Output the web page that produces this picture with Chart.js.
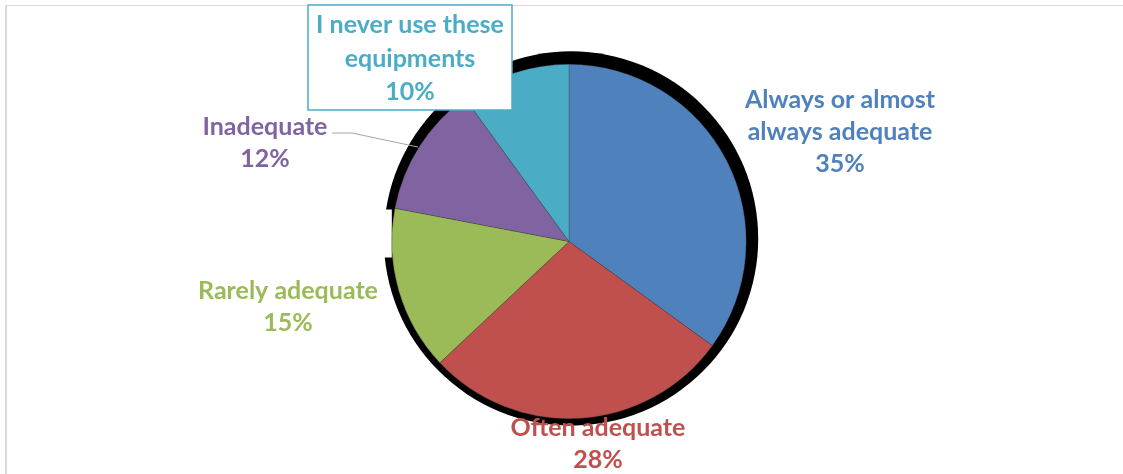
<!DOCTYPE html>
<html>
<head>
<meta charset="utf-8">
<script src="https://cdn.jsdelivr.net/npm/chart.js@4"></script>
<style>
  html, body { margin: 0; padding: 0; background: #fff; }
  #wrap { position: relative; width: 1123px; height: 474px; overflow: hidden; }
  #frame { position: absolute; left: 5px; top: 5px; width: 1130px; height: 480px;
           border-left: 2px solid #d9d9d9; border-top: 1px solid #d9d9d9; }
  canvas { position: absolute; left: 0; top: 0; }
</style>
</head>
<body>
<div id="wrap">
  <div id="frame"></div>
  <canvas id="pie" width="1123" height="474"></canvas>
</div>
<script>
// ─── Data ─────────────────────────────────────────────────────────────────────
const categories = [
  "Always or almost always adequate",
  "Often adequate",
  "Rarely adequate",
  "Inadequate",
  "I never use these equipments",
];
const shares = [35, 28, 15, 12, 10];
const sliceColors = ["#4F81BD", "#C0504D", "#9BBB59", "#8064A2", "#4BACC6"];

// label lines (wrapped like the original) and where they sit
const labelLines = [
  ["Always or almost", "always adequate"],
  ["Often adequate"],
  ["Rarely adequate"],
  ["Inadequate"],
  ["I never use these", "equipments"],
];
const labelAnchors = [
  { x: 840, y: 100 },
  { x: 598, y: 428 },
  { x: 288, y: 291 },
  { x: 265, y: 127 },
  { x: 410, y: 25 },
];

const FONT = "bold 25px Lato, 'Open Sans', sans-serif";
const LINE_H = 32;

// black halo behind the pie (slightly up and right, like the export)
const shadowPlugin = {
  id: "pieShadow",
  beforeDatasetsDraw(chart) {
    const arc = chart.getDatasetMeta(0).data[0];
    if (!arc) return;
    const ctx = chart.ctx;
    ctx.save();
    ctx.fillStyle = "#000";
    ctx.beginPath();
    ctx.arc(arc.x + 2, arc.y - 3, arc.outerRadius + 10, 0, Math.PI * 2);
    ctx.fill();
    // gap on the left where the halo is missing in the original
    ctx.fillStyle = "#fff";
    ctx.fillRect(arc.x - arc.outerRadius - 14, arc.y - 32, 14, 48);
    ctx.restore();
  },
};

// excel-style data labels
const labelPlugin = {
  id: "sliceLabels",
  afterDatasetsDraw(chart) {
    const ctx = chart.ctx;
    ctx.save();
    ctx.font = FONT;
    ctx.textAlign = "center";
    ctx.textBaseline = "middle";

    // boxed label for the last slice
    const box = labelAnchors[4];
    ctx.fillStyle = "#fff";
    ctx.fillRect(box.x - 102, 5, 204, 105);
    ctx.strokeStyle = sliceColors[4];
    ctx.lineWidth = 1.5;
    ctx.strokeRect(box.x - 102, 5, 204, 105);

    // leader line for "Inadequate"
    ctx.strokeStyle = "#a6a6a6";
    ctx.lineWidth = 1;
    ctx.beginPath();
    ctx.moveTo(332, 133);
    ctx.lineTo(352, 133);
    ctx.lineTo(418, 147);
    ctx.stroke();

    categories.forEach((c, i) => {
      const lines = [...labelLines[i], shares[i] + "%"];
      const a = labelAnchors[i];
      ctx.fillStyle = sliceColors[i];
      lines.forEach((t, k) => ctx.fillText(t, a.x, a.y + k * (i === 4 ? 33.5 : LINE_H)));
    });
    ctx.restore();
  },
};

new Chart(document.getElementById("pie"), {
  type: "pie",
  data: {
    labels: categories,
    datasets: [{
      data: shares,
      backgroundColor: sliceColors,
      borderColor: "rgba(60,60,60,0.55)",
      borderWidth: 0.6,
    }],
  },
  options: {
    responsive: false,
    animation: false,
    layout: { padding: { left: 15, right: 0, top: 64, bottom: 55 } },
    plugins: {
      legend: { display: false },
      tooltip: { enabled: false },
    },
  },
  plugins: [shadowPlugin, labelPlugin],
});
</script>
</body>
</html>
